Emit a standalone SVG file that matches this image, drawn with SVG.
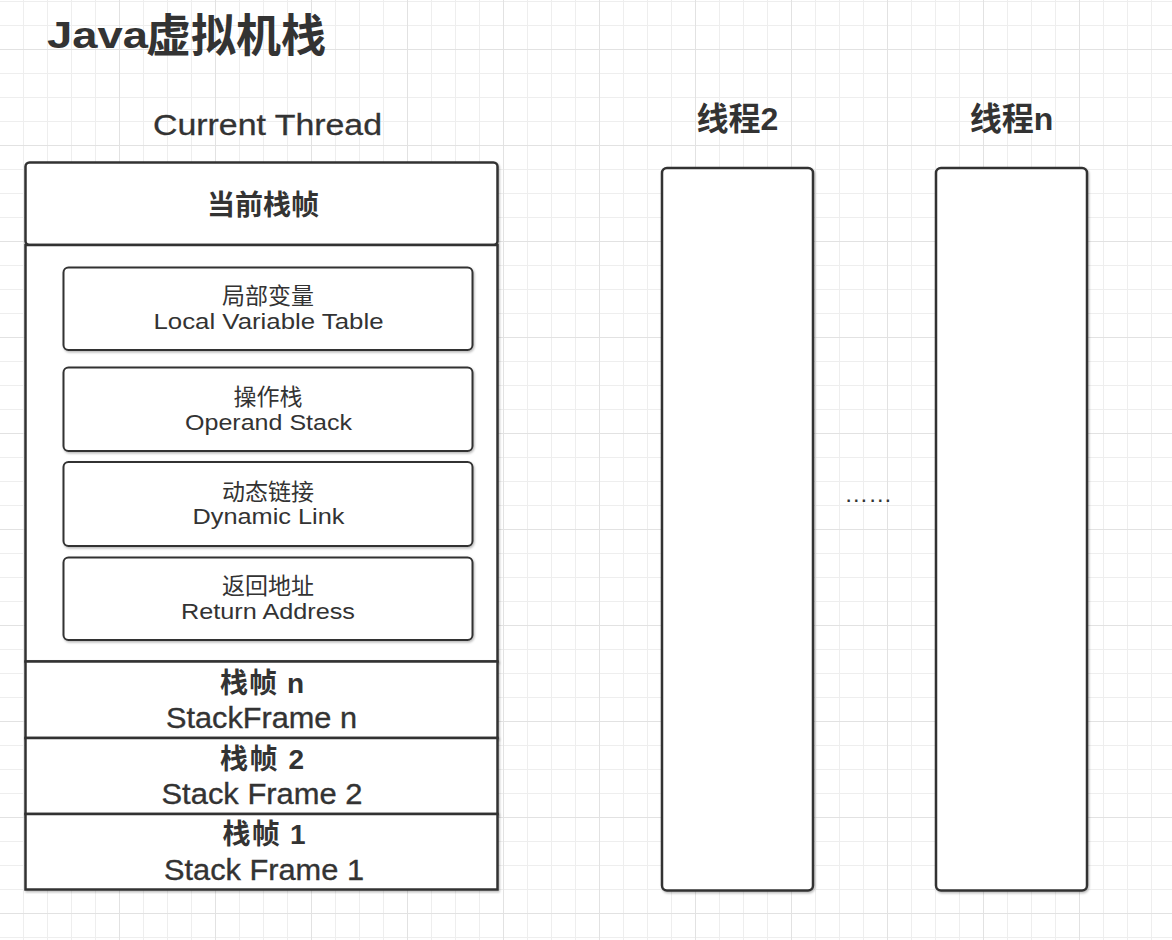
<svg xmlns="http://www.w3.org/2000/svg" width="1172" height="940" viewBox="0 0 1172 940">
  <defs>
    <!-- fine background grid, 24px cells -->
    <pattern id="grid-minor" patternUnits="userSpaceOnUse" x="23" y="1" width="24" height="24">
      <path d="M0.5 0V24M0 0.5H24" fill="none" stroke="#eeeeee" stroke-width="1"/>
    </pattern>
    <filter id="shadow" x="-5%" y="-5%" width="110%" height="110%">
      <feDropShadow dx="1" dy="1.5" stdDeviation="0.8" flood-color="#000" flood-opacity="0.28"/>
    </filter>
    <style>
      .box { fill: #ffffff; stroke: #333333; stroke-width: 2.5; filter: url(#shadow); }
      .inner { fill: #ffffff; stroke: #333333; stroke-width: 2; filter: url(#shadow); }
      text { fill: #333333; font-family: "Liberation Sans", "Noto Sans CJK SC", sans-serif; }
      .title { font-weight: bold; }
      .label { font-size: 29px; stroke: #333333; stroke-width: 0.3; }
      .head { font-size: 28px; font-weight: bold; }
      .thread { font-size: 32px; font-weight: bold; text-anchor: middle; }
      .cn { font-size: 23px; text-anchor: middle; }
      .en { font-size: 22px; }
      .fcn { font-size: 28px; font-weight: bold; text-anchor: middle; }
      .fen { font-size: 29.5px; text-anchor: middle; stroke: #333333; stroke-width: 0.35; }
    </style>
  </defs>

  <!-- background and grid -->
  <rect width="1172" height="940" fill="#ffffff"/>
  <rect width="1172" height="940" fill="url(#grid-minor)"/>
  <path fill="none" stroke="#e2e2e2" stroke-width="1"
        d="M119.5 0V940M215.5 0V940M311.5 0V940M407.5 0V940M503.5 0V940M599.5 0V940M695.5 0V940M791.5 0V940M887.5 0V940M983.5 0V940M1079.5 0V940
           M0 49.5H1172M0 145.5H1172M0 241.5H1172M0 337.5H1172M0 433.5H1172M0 529.5H1172M0 625.5H1172M0 721.5H1172M0 817.5H1172M0 913.5H1172"/>

  <!-- heading -->
  <g id="title">
    <text class="title"><tspan x="47" y="48" font-size="37" textLength="101" lengthAdjust="spacingAndGlyphs">Java</tspan><tspan x="146" y="52" font-size="45">虚拟机栈</tspan></text>
  </g>

  <!-- current thread: stack of frames -->
  <g id="current-thread">
    <text class="label" x="153" y="134.5" textLength="229" lengthAdjust="spacingAndGlyphs">Current Thread</text>
  </g>

  <g id="current-frame">
    <rect class="box" x="25.5" y="162.5" width="472" height="82.5" rx="4"/>
    <text class="head" x="263" y="215" text-anchor="middle">当前栈帧</text>
  </g>

  <g id="current-frame-body">
    <rect class="box" x="25.5" y="245" width="472" height="416.5"/>
  </g>

  <g id="local-variable-table">
    <rect class="inner" x="63.5" y="267.5" width="409" height="82.5" rx="5"/>
    <text class="cn" x="268" y="303.5">局部变量</text>
    <text class="en" x="153.5" y="328.5" textLength="230" lengthAdjust="spacingAndGlyphs">Local Variable Table</text>
  </g>

  <g id="operand-stack">
    <rect class="inner" x="63.5" y="367.5" width="409" height="83.5" rx="5"/>
    <text class="cn" x="268" y="404.5">操作栈</text>
    <text class="en" x="185" y="429.5" textLength="167" lengthAdjust="spacingAndGlyphs">Operand Stack</text>
  </g>

  <g id="dynamic-link">
    <rect class="inner" x="63.5" y="462" width="409" height="84" rx="5"/>
    <text class="cn" x="268" y="499.5">动态链接</text>
    <text class="en" x="192.5" y="524" textLength="152" lengthAdjust="spacingAndGlyphs">Dynamic Link</text>
  </g>

  <g id="return-address">
    <rect class="inner" x="63.5" y="557.5" width="409" height="82.5" rx="5"/>
    <text class="cn" x="268" y="594">返回地址</text>
    <text class="en" x="181" y="618.5" textLength="174" lengthAdjust="spacingAndGlyphs">Return Address</text>
  </g>

  <g id="stack-frame-n">
    <rect class="box" x="25.5" y="661.5" width="472" height="76.5"/>
    <text class="fcn" x="262" y="692.5" textLength="84" lengthAdjust="spacing">栈帧 n</text>
    <text class="fen" x="261.5" y="728" textLength="191" lengthAdjust="spacingAndGlyphs">StackFrame n</text>
  </g>

  <g id="stack-frame-2">
    <rect class="box" x="25.5" y="738" width="472" height="76"/>
    <text class="fcn" x="262" y="768.5" textLength="84" lengthAdjust="spacing">栈帧 2</text>
    <text class="fen" x="262" y="804" textLength="201" lengthAdjust="spacingAndGlyphs">Stack Frame 2</text>
  </g>

  <g id="stack-frame-1">
    <rect class="box" x="25.5" y="814" width="472" height="75.5"/>
    <text class="fcn" x="264" y="843.5" textLength="83" lengthAdjust="spacing">栈帧 1</text>
    <text class="fen" x="264" y="880" textLength="200" lengthAdjust="spacingAndGlyphs">Stack Frame 1</text>
  </g>

  <!-- other threads -->
  <g id="thread-2">
    <text class="thread" x="737.5" y="130">线程2</text>
    <rect class="box" x="662" y="168" width="151" height="722.5" rx="5"/>
  </g>

  <g id="thread-n">
    <text class="thread" x="1011.5" y="130">线程n</text>
    <rect class="box" x="936" y="168" width="151" height="722.5" rx="5"/>
  </g>

  <g id="ellipsis">
    <text x="844.3" y="501.5" font-size="24">……</text>
  </g>

  <!-- this diagram has no connectors -->
  <g id="connectors"/>
</svg>
